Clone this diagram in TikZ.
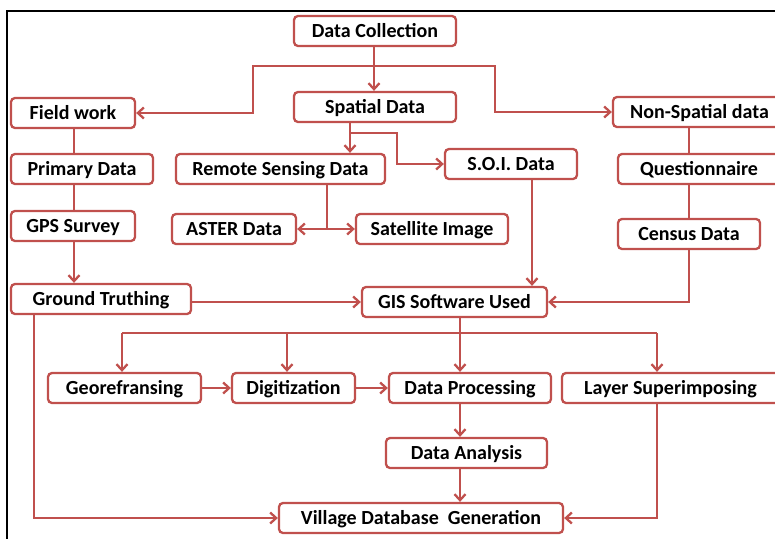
\documentclass[tikz,border=0pt]{standalone}
\usepackage{fontspec}
\setmainfont{Carlito}
\usetikzlibrary{arrows.meta}
\definecolor{boxred}{RGB}{192,80,77}
\begin{document}
\begin{tikzpicture}[x=1pt,y=-1pt,
  box/.style={draw=boxred, line width=2.3pt, rounded corners=4pt, fill=white,
    minimum height=30pt, inner sep=0pt, text height=14pt, text depth=1pt,
    font=\fontsize{20}{22}\selectfont\bfseries, text=black},
  conn/.style={draw=boxred, line width=2.3pt},
  arr/.style={conn, -{Straight Barb[length=6pt,width=11pt]}},
  arrb/.style={conn, {Straight Barb[length=6pt,width=11pt]}-{Straight Barb[length=6pt,width=11pt]}}]
\useasboundingbox (0,0) rectangle (775,538);
\clip (0,0) rectangle (775,538);
\draw[line width=2pt] (7,540) -- (7,11) -- (780,11);

\coordinate (dcj) at (374,66);
\coordinate (sdj) at (350,133);
\coordinate (bus) at (460,333);

\node[box, minimum width=162pt] (dc) at (375,31) {Data Collection};
\node[box, minimum width=124pt] (fw) at (73,113) {Field work};
\node[box, minimum width=162pt] (sd) at (375,107) {Spatial Data};
\node[box, minimum width=173pt] (ns) at (699.5,112) {Non-Spatial data};
\node[box, minimum width=142pt] (pd) at (82,169) {Primary Data};
\node[box, minimum width=209pt] (rs) at (280.5,169) {Remote Sensing Data};
\node[box, minimum width=132pt] (soi) at (511,164) {S.O.I. Data};
\node[box, minimum width=162pt] (qu) at (699,169) {Questionnaire};
\node[box, minimum width=124pt] (gps) at (73,226) {GPS Survey};
\node[box, minimum width=124pt] (aster) at (234,229) {ASTER Data};
\node[box, minimum width=152pt] (sat) at (432,229) {Satellite Image};
\node[box, minimum width=142pt] (cen) at (689,234) {Census Data};
\node[box, minimum width=180pt] (gt) at (101,299) {Ground Truthing};
\node[box, minimum width=185pt] (gis) at (454.5,302) {GIS Software Used};
\node[box, minimum width=153pt] (geo) at (124.5,388) {Georefransing};
\node[box, minimum width=123pt] (dig) at (293.5,388) {Digitization};
\node[box, minimum width=162pt] (dp) at (470,388) {Data Processing};
\node[box, minimum width=217pt] (ls) at (670.5,388) {Layer Superimposing};
\node[box, minimum width=161pt] (da) at (466.5,453) {Data Analysis};
\node[box, minimum width=284pt] (vd) at (421,518) {Village Database\ \ Generation};

% top level
\draw[arr] (dcj |- dc.south) -- (dcj |- sd.north);
\draw[arr] (dcj) -- (253,66) |- (fw.east);
\draw[arr] (dcj) -- (495,66) |- (ns.west);
% field work chain
\draw[conn] (74,128) coordinate (fwb) (fwb |- fw.south) -- (fwb |- pd.north);
\draw[conn] (fwb |- pd.south) -- (fwb |- gps.north);
\draw[arr] (fwb |- gps.south) -- (fwb |- gt.north);
\draw[arr] (gt.east |- gis.west) -- (gis.west);
\draw[arr] ([xshift=24pt]gt.south west) |- (vd.west);
% spatial
\draw[arr] (sdj |- sd.south) -- (sdj |- rs.north);
\draw[arr] (sdj) -- (397,133) |- (soi.west);
\draw[conn] (327,184) coordinate (rsb) (rsb |- rs.south) -- (rsb |- aster.east);
\draw[arrb] (aster.east) -- (sat.west);
\draw[arr] ([xshift=21pt]soi.south) -- ([xshift=21pt]soi.south |- gis.north);
% non-spatial
\draw[conn] (cen.south |- ns.south) -- (cen.south |- qu.north);
\draw[conn] (cen.south |- qu.south) -- (cen.north);
\draw[arr] (cen.south) |- (gis.east);
% GIS
\draw[arr] (bus |- gis.south) -- (bus |- dp.north);
\draw[conn] (122,333) -- (657,333);
\draw[arr] (122,333) -- (122,333 |- geo.north);
\draw[arr] (287,333) -- (287,333 |- dig.north);
\draw[arr] (657,333) -- (657,333 |- ls.north);
\draw[arr] (geo.east) -- (dig.west);
\draw[arr] (dig.east) -- (dp.west);
\draw[arr] (bus |- dp.south) -- (bus |- da.north);
\draw[arr] (bus |- da.south) -- (bus |- vd.north);
\draw[arr] (657,333 |- ls.south) |- (vd.east);
\end{tikzpicture}
\end{document}
